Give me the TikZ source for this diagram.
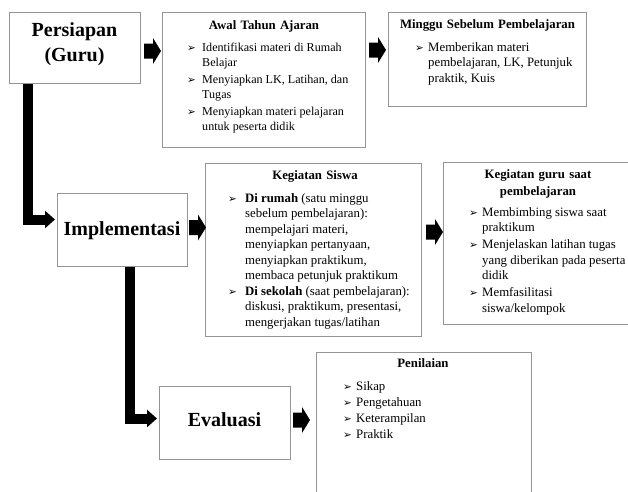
\documentclass[tikz,border=0pt]{standalone}
\usepackage{fontspec}
\setmainfont{Liberation Serif}
\newfontfamily\dvfont{DejaVu Sans}
\usetikzlibrary{arrows.meta,calc}
\newlength\bw
\setlength\bw{13pt}
\newcommand\bul{{\dvfont\fontsize{10.5}{10.5}\selectfont\char"27A2}}
\newcommand\B{\makebox[\bw][l]{\bul}}
\tikzset{
  box/.style={draw=black!42, line width=1pt, inner sep=0pt, anchor=north west},
  biglabel/.style={anchor=base, inner sep=0pt, text width=130pt, align=center,
    font=\fontsize{20}{25}\selectfont\bfseries},
  boxtitle/.style={anchor=base, inner sep=0pt, text width=180pt, align=center,
    font=\fontsize{12.8}{17}\selectfont\bfseries},
  boxlist/.style={anchor=base west, inner sep=0pt,
    font=\fontsize{12.8}{15.5}\selectfont},
  bigconn/.style={line width=10pt, black, -{Triangle[length=10pt,width=17pt]}},
  barrow/.pic={\fill[black] (0,0) -- (-8,-13) -- (-8,-7.5) -- (-17,-7.5)
     -- (-17,7.5) -- (-8,7.5) -- (-8,13) -- cycle;}
}
\begin{document}
\begin{tikzpicture}[x=1pt,y=-1pt]
\clip (0,0) rectangle (628,491);
\fill[white] (0,0) rectangle (628,491);

% boxes
\node[box, minimum width=131pt, minimum height=71pt] (pers) at (9,12) {};
\node[box, minimum width=203pt, minimum height=135pt] (awal) at (162,12) {};
\node[box, minimum width=198pt, minimum height=94pt] (mingg) at (388,12) {};
\node[box, minimum width=130pt, minimum height=73pt] (impl) at (57,193) {};
\node[box, minimum width=216pt, minimum height=173pt] (siswa) at (205,163) {};
\node[box, minimum width=197pt, minimum height=162pt] (guru) at (443,162) {};
\node[box, minimum width=131pt, minimum height=73pt] (eval) at (159,386) {};
\node[box, minimum width=215pt, minimum height=160pt] (nilai) at (316,352) {};

% big labels
\node[biglabel] (persT) at (74.5,36) {Persiapan\\(Guru)};
\node[biglabel] (implT) at (122,235) {Implementasi};
\node[biglabel] (evalT) at (224.5,426) {Evaluasi};

% titles
\node[boxtitle] (awalT) at (264,29.5) {Awal Tahun Ajaran};
\node[boxtitle] (minggT) at (487.5,28.5) {Minggu Sebelum Pembelajaran};
\node[boxtitle] (siswaT) at (315,179.5) {Kegiatan Siswa};
\node[boxtitle] (guruT) at (538,178.5) {Kegiatan guru saat\\pembelajaran};
\node[boxtitle] (nilaiT) at (423,367.5) {Penilaian};

% lists
\node[boxlist, font=\fontsize{12.1}{15.5}\selectfont] (awalL) at (187,51) {\setlength\bw{15pt}%
  \begin{tabular}[t]{@{}l@{}l@{}}
  \B & Identifikasi materi di Rumah\\
     & Belajar\\[1pt]
  \B & Menyiapkan LK, Latihan, dan\\
     & Tugas\\[1pt]
  \B & Menyiapkan materi pelajaran\\
     & untuk peserta didik
  \end{tabular}};
\node[boxlist] (minggL) at (415,51) {%
  \begin{tabular}[t]{@{}l@{}l@{}}
  \B & Memberikan materi\\
     & pembelajaran, LK, Petunjuk\\
     & praktik, Kuis
  \end{tabular}};
\node[boxlist] (siswaL) at (228,202) {\setlength\bw{17pt}%
  \begin{tabular}[t]{@{}l@{}l@{}}
  \B & \textbf{Di rumah} (satu minggu\\
     & sebelum pembelajaran):\\
     & mempelajari materi,\\
     & menyiapkan pertanyaan,\\
     & menyiapkan praktikum,\\
     & membaca petunjuk praktikum\\
  \B & \textbf{Di sekolah} (saat pembelajaran):\\
     & diskusi, praktikum, presentasi,\\
     & mengerjakan tugas/latihan
  \end{tabular}};
\node[boxlist] (guruL) at (469,216) {%
  \begin{tabular}[t]{@{}l@{}l@{}}
  \B & Membimbing siswa saat\\
     & praktikum\\[1.5pt]
  \B & Menjelaskan latihan tugas\\
     & yang diberikan pada peserta\\
     & didik\\[1.5pt]
  \B & Memfasilitasi\\
     & siswa/kelompok
  \end{tabular}};
\node[boxlist, font=\fontsize{12.8}{16}\selectfont] (nilaiL) at (343,390) {%
  \begin{tabular}[t]{@{}l@{}l@{}}
  \B & Sikap\\
  \B & Pengetahuan\\
  \B & Keterampilan\\
  \B & Praktik
  \end{tabular}};

% thick L connectors
\coordinate (x1) at (28,0);
\coordinate (x2) at (129.5,0);
\draw[bigconn] (pers.south -| x1) |- ([xshift=-2pt,yshift=10.5pt]impl.west);
\draw[bigconn] (impl.south -| x2) |- ([xshift=-2pt,yshift=4.5pt]eval.west);

% block arrows
\pic at (161,51) {barrow};
\pic at (386,50) {barrow};
\pic at (206,227.5) {barrow};
\pic at (443,232) {barrow};
\pic at (310,420) {barrow};
\end{tikzpicture}
\end{document}
